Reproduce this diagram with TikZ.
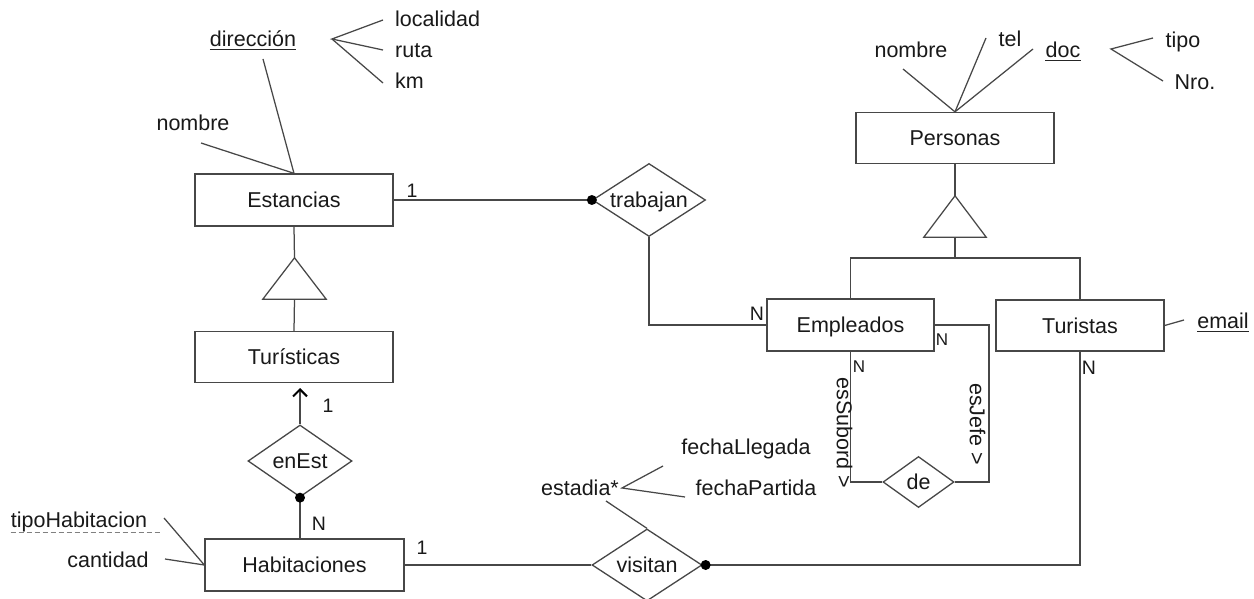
\documentclass[tikz,border=0pt]{standalone}
\usepackage{fontspec}
\setmainfont{Liberation Sans}
\usetikzlibrary{shapes.geometric,arrows.meta}
\begin{document}
\begin{tikzpicture}[x=1pt,y=-1pt,
  every node/.style={font=\fontsize{21.5}{26}\selectfont, text=black!90, text height=15.5pt, text depth=0pt, inner sep=0pt},
  ent/.style={draw=black!72, line width=1.3pt, minimum height=52pt},
  rel/.style={draw=black!72, line width=1.3pt, diamond, aspect=1.5},
  ln/.style={draw=black!72, line width=1.25pt},
  ul/.style={draw=black!85, line width=1pt},
  card/.style={font=\fontsize{19.5}{22}\selectfont, text height=14pt},
  scard/.style={font=\fontsize{17}{19}\selectfont, text height=12pt},
  dotm/.style={circle, fill=black, minimum size=10pt, inner sep=0pt, text height=0pt},
  isa/.style={minimum width=63pt, minimum height=41pt, text height=0pt},
]
\useasboundingbox (0,0) rectangle (1254,599);
\fill[white] (0,0) rectangle (1254,599);

% entities
\node[ent, minimum width=198pt] (est) at (294,200) {Estancias};
\node[ent, minimum width=198pt, minimum height=51pt] (tur) at (294,357) {Turísticas};
\node[ent, minimum width=199pt] (hab) at (304.5,565) {Habitaciones};
\node[ent, minimum width=198pt, minimum height=51pt] (per) at (955,138) {Personas};
\node[ent, minimum width=167pt] (emp) at (850.5,325) {Empleados};
\node[ent, minimum width=168pt, minimum height=51pt] (tus) at (1080,325.5) {Turistas};

% relationships
\node[rel, minimum width=113pt, minimum height=73pt] (trab) at (649,200) {trabajan};
\node[rel, minimum width=104pt, minimum height=72pt] (enest) at (300,461) {enEst};
\node[rel, minimum width=71pt, minimum height=51pt] (de) at (918.5,482) {de};
\node[rel, minimum width=110pt, minimum height=72pt] (vis) at (647,565) {visitan};

% ISA triangles
\node[isa] (isa1) at (294.5,278.5) {};
\draw[ln] (isa1.north) -- (isa1.south west) -- (isa1.south east) -- cycle;
\node[isa, minimum width=62pt] (isa2) at (955,216.5) {};
\draw[ln] (isa2.north) -- (isa2.south west) -- (isa2.south east) -- cycle;

% hierarchy connectors
\draw[ln] (est.south) -- (isa1.north);
\draw[ln] (isa1.south) -- (tur.north);
\draw[ln] (per.south) -- (isa2.north);
\coordinate (hj) at (955,258);
\draw[ln] (isa2.south) -- (hj);
\draw[ln] (emp.north) -- (emp.north |- hj) -- (tus.north |- hj) -- (tus.north);

% trabajan
\draw[ln] (est.east) -- (trab.west);
\node[dotm] at (trab.west) {};
\draw[ln] (trab.south) |- (emp.west);

% enEst
\coordinate (tip) at (300,388);
\draw[ln, -{Straight Barb[length=7pt,width=14pt,line width=2pt,color=black]}] (enest.north) -- (tip);
\draw[ln] (enest.south) -- (enest.south |- hab.north);
\node[dotm] at (enest.south) {};

% visitan
\draw[ln] (hab.east) -- (vis.west);
\draw[ln] (vis.east) -| (tus.south);
\node[dotm] at ([xshift=3pt]vis.east) {};

% de (recursive)
\coordinate (jr) at (989,325);
\draw[ln] (emp.south) |- (de.west);
\draw[ln] (emp.east) -- (jr) |- (de.east);
\node[rotate=-90] (sub) at (844.5,433) {esSubord >};
\node[rotate=-90] (jefe) at (977.5,424) {esJefe >};

% cardinalities
\node[card] (c1) at (412,190) {1};
\node[card] (c2) at (757,313) {N};
\node[scard] (c3) at (942,339) {N};
\node[scard] (c4) at (859,366) {N};
\node[card] (c5) at (1089,367) {N};
\node[card] (c6) at (328,405) {1};
\node[card] (c7) at (319,523) {N};
\node[card] (c8) at (422,547) {1};

% Estancias attributes
\node (dir) at (253,39) {dirección};
\draw[ul] ([yshift=-2.5pt]dir.base west) -- ([yshift=-2.5pt]dir.base east);
\coordinate (d1) at (263,59);
\draw[ln] (d1) -- (est.north);
\node (nom1) at (193,123) {nombre};
\coordinate (n1) at (201,143);
\draw[ln] (n1) -- (est.north);
\coordinate (dv) at (332,39);
\node[anchor=west] (loc) at (395,19) {localidad};
\node[anchor=west] (ruta) at (395,50) {ruta};
\node[anchor=west] (km) at (395,81) {km};
\draw[ln] ([xshift=-12pt,yshift=-1pt]loc.west) -- (dv) -- ([xshift=-12pt]ruta.west);
\draw[ln] (dv) -- ([xshift=-12pt,yshift=-2pt]km.west);

% Personas attributes
\node (nom2) at (911,50) {nombre};
\coordinate (n2) at (903,69);
\draw[ln] (n2) -- (per.north);
\node (tel) at (1010,39) {tel};
\coordinate (t2) at (986,38);
\draw[ln] (t2) -- (per.north);
\node (doc) at (1063,50) {doc};
\draw[ul] ([yshift=-2.5pt]doc.base west) -- ([yshift=-2.5pt]doc.base east);
\coordinate (dc) at (1033,49);
\draw[ln] (dc) -- (per.north);
\coordinate (dv2) at (1111,49);
\node (tipo) at (1183,40) {tipo};
\node (nro) at (1195,82) {Nro.};
\coordinate (tp) at (1153,38);
\coordinate (nr) at (1163,81);
\draw[ln] (tp) -- (dv2) -- (nr);

% Turistas attribute
\node (em) at (1223,321) {email};
\draw[ul] ([yshift=-2.5pt]em.base west) -- ([yshift=-2.5pt]em.base east);
\coordinate (emc) at (1184,320);
\draw[ln] (tus.east) -- (emc);

% visitan attribute
\node (esd) at (580,488) {estadia*};
\coordinate (ev) at (622,488);
\coordinate (fl1) at (663,466);
\coordinate (fp1) at (685,497);
\draw[ln] (fl1) -- (ev) -- (fp1);
\node (fl) at (746,447) {fechaLlegada};
\node (fp) at (756,488) {fechaPartida};
\coordinate (es1) at (606,501);
\draw[ln] (es1) -- (vis.north);

% Habitaciones attributes
\node (tipoh) at (79,520) {tipoHabitacion};
\draw[draw=black!50, line width=1pt, dash pattern=on 5pt off 3pt] ([yshift=-5pt]tipoh.south west) -- ([xshift=13pt,yshift=-5pt]tipoh.south east);
\coordinate (th) at (164,518);
\draw[ln] (th) -- (hab.west);
\node (cant) at (108,560) {cantidad};
\coordinate (ca) at (165,559);
\draw[ln] (ca) -- (hab.west);
\end{tikzpicture}
\end{document}
